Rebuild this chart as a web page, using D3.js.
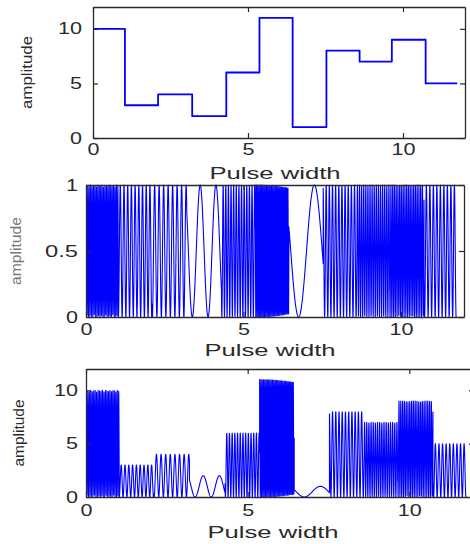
<!DOCTYPE html>
<html><head><meta charset="utf-8">
<script src="https://cdn.jsdelivr.net/npm/d3@7/dist/d3.min.js"></script>
<style>body{margin:0;background:#fff}svg{display:block}</style>
</head><body>
<svg id="chart" width="470" height="544"></svg>
<script>
// ---- data ----
const pulseEdges = [0, 1.03, 2.1, 3.2, 4.3, 5.37, 6.44, 7.53, 8.6, 9.64, 10.73, 11.75];
const pulseAmplitude = [10, 3, 4, 2, 6, 11, 1, 8, 7, 9, 5];
// visible carrier oscillations per unit of pulse width inside each pulse
const carrierCycles = [22, 8.5, 7, 2, 12, 25, 1, 10, 15, 18, 9];
const sampleStep = 0.004;
const xTickValues = [0, 5, 10];
const xTickLabels = ["0", "5", "10"];
const ampTickValues = [0, 5, 10];
const ampTickLabels = ["0", "5", "10"];
const normTickValues = [0, 0.5, 1];
const normTickLabels = ["0", "0.5", "1"];
const xTitle = "Pulse width";
const yTitle = "amplitude";

// ---- derived tables ----
const stepData = pulseAmplitude.map((a, i) => ({x: pulseEdges[i], y: a}));
stepData.push({x: pulseEdges[pulseEdges.length - 1], y: pulseAmplitude[pulseAmplitude.length - 1]});

const carrierData = [];
pulseAmplitude.forEach((a, i) => {
  const t0 = pulseEdges[i], t1 = pulseEdges[i + 1];
  const n = Math.round((t1 - t0) / sampleStep);
  for (let k = 0; k <= n; k++) {
    const t = t0 + (t1 - t0) * k / n;
    const s = 0.5 + 0.5 * Math.sin(2 * Math.PI * carrierCycles[i] * t);
    carrierData.push({x: t, n: s, a: a * s});
  }
});

const svg = d3.select("#chart");
const BLUE = "#0000ff", INK = "#2a2a2a";

function labelWidth(s) {
  let w = 0;
  for (const ch of s) w += (ch === "." ? 9 : 12);
  return w;
}

function panel(opt) {
  const x = d3.scaleLinear().domain([0, 12]).range([opt.left, opt.right]);
  const y = d3.scaleLinear().domain(opt.yDomain).range([opt.bottom, opt.top]);
  const g = svg.append("g");
  g.append("rect").attr("x", opt.left).attr("y", opt.top)
    .attr("width", opt.right - opt.left).attr("height", opt.bottom - opt.top).attr("fill", "#fff");

  const clipId = "clip" + opt.id;
  g.append("clipPath").attr("id", clipId).append("rect")
    .attr("x", opt.left).attr("y", opt.top - 1)
    .attr("width", opt.right - opt.left).attr("height", opt.bottom - opt.top + 2);

  const line = d3.line().x(d => x(d.x)).y(d => y(opt.yAcc(d)));
  if (opt.step) line.curve(d3.curveStepAfter);
  g.append("path").datum(opt.data).attr("clip-path", `url(#${clipId})`)
    .attr("d", line).attr("fill", "none").attr("stroke", BLUE)
    .attr("stroke-width", opt.sw).attr("stroke-linejoin", "round");

  const style = sel => {
    sel.select(".domain").attr("stroke", INK).attr("stroke-width", 1.3);
    sel.selectAll(".tick line").attr("stroke", INK).attr("stroke-width", 1.2);
    sel.selectAll("text").attr("fill", INK).style("font-family", "'Liberation Sans', Arial, sans-serif").style("font-size", "16px");
  };
  const bx = g.append("g").attr("transform", `translate(0,${opt.bottom})`)
    .call(d3.axisBottom(x).tickValues(xTickValues).tickFormat((d, i) => xTickLabels[i])
      .tickSize(-5).tickSizeOuter(0).tickPadding(opt.xPad)).call(style);
  bx.selectAll("text").attr("textLength", d => labelWidth(xTickLabels[xTickValues.indexOf(d)]))
    .attr("lengthAdjust", "spacingAndGlyphs");
  g.append("g").attr("transform", `translate(0,${opt.top})`)
    .call(d3.axisTop(x).tickValues(xTickValues).tickFormat("").tickSize(-5).tickSizeOuter(0)).call(style);
  const ly = g.append("g").attr("transform", `translate(${opt.left},0)`)
    .call(d3.axisLeft(y).tickValues(opt.yTicks).tickFormat((d, i) => opt.yLabels[i])
      .tickSize(-5).tickSizeOuter(0).tickPadding(opt.yPad)).call(style);
  ly.selectAll("text").attr("textLength", d => labelWidth(opt.yLabels[opt.yTicks.indexOf(d)]))
    .attr("lengthAdjust", "spacingAndGlyphs");
  g.append("g").attr("transform", `translate(${opt.right},0)`)
    .call(d3.axisRight(y).tickValues(opt.yTicks).tickFormat("").tickSize(-5).tickSizeOuter(0)).call(style);

  g.append("text").attr("x", (opt.xTitleX)).attr("y", opt.xTitleY)
    .attr("text-anchor", "middle").attr("dy", "0.35em")
    .attr("textLength", 131).attr("lengthAdjust", "spacingAndGlyphs")
    .style("font-family", "'Liberation Sans', Arial, sans-serif").style("font-size", "16px")
    .attr("fill", INK).text(xTitle);

  g.append("text").attr("transform", `translate(${opt.yTitleX},${(opt.top + opt.bottom) / 2}) rotate(-90)`)
    .attr("text-anchor", "middle").attr("dy", "0.35em")
    .attr("textLength", opt.yTitleLen).attr("lengthAdjust", "spacingAndGlyphs")
    .style("font-family", "'Liberation Sans', Arial, sans-serif").style("font-size", "14px")
    .attr("fill", opt.yTitleColor || INK).text(yTitle);
}

// bottom panel: amplitude-modulated carrier
panel({id: 3, left: 86, right: 474, top: 369, bottom: 497, yDomain: [0, 12],
  yTicks: ampTickValues, yLabels: ampTickLabels, data: carrierData, yAcc: d => d.a, sw: 1.1,
  xPad: 8, yPad: 8, xTitleX: 273, xTitleY: 532, yTitleX: 19, yTitleLen: 67});
// middle panel: normalised carrier
panel({id: 2, left: 86, right: 464, top: 185, bottom: 317, yDomain: [0, 1],
  yTicks: normTickValues, yLabels: normTickLabels, data: carrierData, yAcc: d => d.n, sw: 1.1,
  xPad: 7, yPad: 8, xTitleX: 270, xTitleY: 350, yTitleX: 16, yTitleLen: 68, yTitleColor: "#777"});
// top panel: pulse amplitudes
panel({id: 1, left: 93, right: 465, top: 7, bottom: 138, yDomain: [0, 12],
  yTicks: ampTickValues, yLabels: ampTickLabels, data: stepData, yAcc: d => d.y, sw: 1.8, step: true,
  xPad: 6, yPad: 11, xTitleX: 275, xTitleY: 173, yTitleX: 27, yTitleLen: 73});
</script>
</body></html>
